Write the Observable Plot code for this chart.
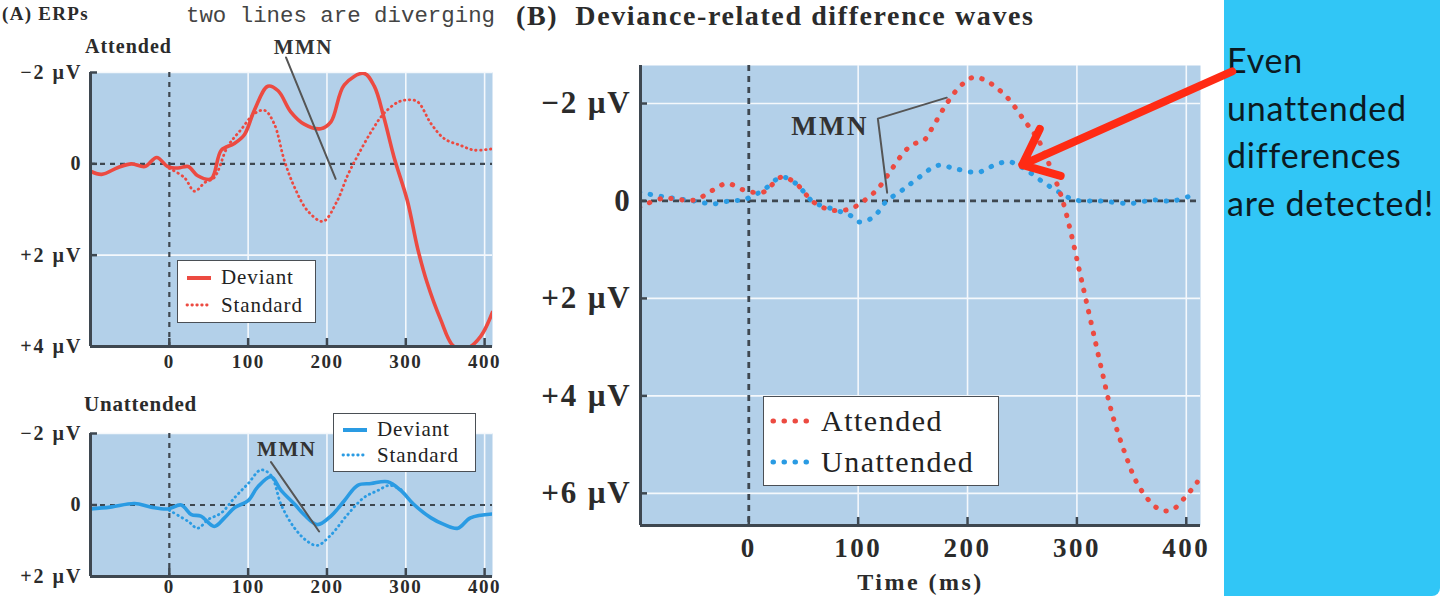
<!DOCTYPE html>
<html>
<head>
<meta charset="utf-8">
<script src="https://cdn.jsdelivr.net/npm/d3@7"></script>
<script src="https://cdn.jsdelivr.net/npm/@observablehq/plot@0.6"></script>
<style>
  html, body { margin: 0; padding: 0; }
  body { width: 1440px; height: 596px; overflow: hidden; background: #fff; position: relative; font-family: "Liberation Serif", serif; }
  .abs { position: absolute; white-space: nowrap; }
  .lbl { font-weight: bold; color: #2b2b2b; }
  .legend { position: absolute; background: #fff; border: 1.5px solid #4a4f55; box-sizing: border-box; color: #222; }
  .legend .row { display: flex; align-items: center; }
  #cyan { position: absolute; left: 1224px; top: 0; width: 216px; height: 596px; background: #31c6f6; border-bottom-right-radius: 8px; }
  #note { position: absolute; left: 1227px; top: 36px; font-family: Lato, "Open Sans", sans-serif; font-size: 34px; line-height: 47.5px; letter-spacing: 0.8px; color: #0c1a22; }
</style>
</head>
<body>
<div id="cyan"></div>
<div id="note">Even<br>unattended<br>differences<br>are detected!</div>

<div class="abs lbl" style="left:2px;top:3px;font-size:19px;letter-spacing:1.3px;">(A)&nbsp;ERPs</div>
<div class="abs" style="left:186px;top:3px;font-family:'Liberation Mono',monospace;font-size:22.4px;color:#444;">two lines are diverging</div>
<div class="abs lbl" style="left:516px;top:0px;font-size:28px;letter-spacing:1.6px;">(B)&nbsp; Deviance-related difference waves</div>
<div class="abs lbl" style="left:85px;top:35px;font-size:20px;letter-spacing:1px;">Attended</div>
<div class="abs lbl" style="left:84px;top:392px;font-size:21px;letter-spacing:0.8px;">Unattended</div>

<div id="pA" class="abs" style="left:0;top:0;"></div>
<div id="pU" class="abs" style="left:0;top:380px;"></div>
<div id="pB" class="abs" style="left:510px;top:30px;"></div>

<script>
// ---------- data (time in ms, amplitude in µV; negative is plotted upward) ----------
const timeTicks = [0, 100, 200, 300, 400];
const ticksAttended = [-2, 0, 2, 4];
const ticksUnattended = [-2, 0, 2];
const ticksDifference = [-2, 0, 2, 4, 6];

const attendedDeviant = [[-100,0.16],[-86,0.23],[-65,0.08],[-48,0.0],[-31,0.06],[-16,-0.14],[-2,0.06],[11,0.09],[24,0.06],[36,0.26],[53,0.33],[66,-0.3],[82,-0.44],[95,-0.63],[108,-1.18],[125,-1.7],[138,-1.6],[154,-1.14],[171,-0.87],[192,-0.77],[205,-0.92],[222,-1.73],[247,-1.98],[260,-1.7],[272,-1.03],[285,-0.15],[302,0.81],[315,1.85],[327,2.6],[344,3.4],[361,4.0],[378,4.04],[395,3.78],[410,3.25]];
const attendedStandard = [[0,0.1],[19,0.3],[32,0.6],[45,0.41],[57,0.3],[74,-0.38],[91,-0.75],[108,-1.1],[121,-1.17],[133,-0.88],[146,-0.07],[159,0.52],[176,1.04],[195,1.26],[213,0.81],[226,0.26],[239,-0.18],[256,-0.7],[272,-1.1],[290,-1.35],[302,-1.4],[315,-1.36],[332,-0.88],[349,-0.55],[370,-0.4],[387,-0.3],[410,-0.33]];

const unattendedDeviant = [[-100,0.11],[-75,0.06],[-44,-0.04],[-23,0.06],[-2,0.11],[15,0.0],[28,0.27],[40,0.31],[57,0.6],[70,0.36],[83,0.07],[100,-0.12],[112,-0.5],[129,-0.79],[142,-0.4],[159,-0.02],[171,0.27],[188,0.55],[205,0.31],[222,-0.12],[239,-0.55],[256,-0.6],[277,-0.65],[294,-0.4],[310,-0.02],[332,0.36],[349,0.55],[366,0.65],[382,0.36],[410,0.25]];
const unattendedStandard = [[0,0.15],[24,0.46],[36,0.65],[49,0.41],[66,0.22],[83,-0.21],[100,-0.6],[116,-0.98],[129,-0.83],[142,0.0],[159,0.65],[176,1.03],[188,1.13],[205,0.84],[226,0.27],[247,-0.21],[264,-0.4],[280,-0.55],[296,-0.4]];

const diffAttended = [[-100,0.13],[-79,-0.05],[-50,-0.02],[-33,-0.22],[-20,-0.36],[-4,-0.22],[13,-0.18],[30,-0.49],[43,-0.36],[59,0.02],[76,0.19],[93,0.16],[105,0.0],[118,-0.25],[130,-0.63],[143,-1.03],[151,-1.17],[160,-1.24],[168,-1.51],[181,-2.0],[194,-2.37],[206,-2.54],[219,-2.44],[236,-2.13],[252,-1.65],[265,-1.24],[278,-0.56],[286,-0.08],[294,0.6],[302,1.4],[308,2.0],[315,2.7],[323,3.5],[332,4.35],[344,5.18],[357,5.87],[374,6.31],[386,6.35],[399,6.08],[410,5.77]];
const diffUnattended = [[-100,-0.18],[-79,-0.09],[-50,0.0],[-33,0.06],[-18,0.0],[-4,-0.03],[13,-0.22],[30,-0.49],[43,-0.36],[59,0.02],[76,0.16],[93,0.3],[101,0.43],[114,0.33],[126,0.0],[139,-0.2],[152,-0.42],[173,-0.73],[189,-0.66],[210,-0.59],[227,-0.76],[239,-0.8],[252,-0.66],[269,-0.39],[286,-0.15],[298,-0.02],[321,0.0],[349,0.05],[370,-0.02],[388,0.0],[410,-0.16]];

// MMN annotation pointers and label anchors (data coordinates)
const mmnPointerAttended = [[148,-2.33],[211,0.33]];
const mmnPointerUnattended = [[129,-1.2],[190,0.74]];
const mmnPointerDifference = [[181,-2.12],[118,-1.69],[126.5,-0.17]];
const mmnLabelAttended = [[170,-2.56]];
const mmnLabelUnattended = [[149,-1.57]];
const mmnLabelDifference = [[110,-1.53]];
const calloutArrow = [{x1: 442, y1: -2.66, x2: 250, y2: -0.74}];

// ---------- styling ----------
const BG = "#b3d0e9", AXIS = "#3e4750", RED = "#ec4a41", BLUE = "#2a9be3", INK = "#2b2b2b";
const fmtUV = d => d === 0 ? "0" : (d < 0 ? "\u2212" : "+") + Math.abs(d) + " \u00b5V";

function panel(cfg) {
  const {width, height, mt, mr, mb, ml, xDomain, yDomain, yTicks, fsX, fsY, xPad, yPad, series, extra = []} = cfg;
  const [x0, x1] = xDomain, [y0, y1] = yDomain;
  const kx = (width - ml - mr) / (x1 - x0), ky = (height - mt - mb) / (y1 - y0);
  const tx = 7 / kx, ty = 8 / ky;
  const svg = Plot.plot({
    width, height, marginTop: mt, marginRight: mr, marginBottom: mb, marginLeft: ml,
    x: {domain: xDomain},
    y: {domain: yDomain, reverse: true},
    style: {fontFamily: "Liberation Serif, serif", fontWeight: "bold", color: INK, background: "transparent", overflow: "visible", letterSpacing: cfg.ls + "px"},
    marks: [
      Plot.frame({fill: BG, stroke: "none"}),
      Plot.ruleX(timeTicks.filter(d => d !== 0), {stroke: "#f4f8fc", strokeWidth: 1.6}),
      Plot.ruleY(yTicks.filter(d => d !== 0), {stroke: "#f4f8fc", strokeWidth: 1.6}),
      Plot.ruleY([0], {stroke: AXIS, strokeWidth: cfg.dashW, strokeDasharray: cfg.dash}),
      Plot.ruleX([0], {stroke: AXIS, strokeWidth: cfg.dashW, strokeDasharray: cfg.dash}),
      ...series,
      Plot.ruleX([x0], {stroke: AXIS, strokeWidth: 3}),
      Plot.ruleY([y1], {stroke: AXIS, strokeWidth: 3}),
      Plot.ruleY(yTicks, {x1: x0, x2: x0 + tx, stroke: AXIS, strokeWidth: 2.5}),
      Plot.ruleX(timeTicks, {y1: y1, y2: y1 - ty, stroke: AXIS, strokeWidth: 2.5}),
      Plot.axisY({ticks: yTicks, tickFormat: fmtUV, tickSize: 0, tickPadding: yPad, label: null, fontSize: fsY, fill: INK}),
      Plot.axisX({ticks: timeTicks, tickFormat: d => String(d), tickSize: 0, tickPadding: xPad, label: null, fontSize: fsX, fill: INK}),
      ...extra
    ]
  });
  if (cfg.lsY != null) svg.querySelectorAll('[aria-label="y-axis tick label"]').forEach(g => g.style.letterSpacing = cfg.lsY + "px");
  return svg;
}

const line = (data, stroke, opts) => Plot.line(data, {x: d => d[0], y: d => d[1], stroke, curve: "catmull-rom", clip: true, strokeLinecap: "round", ...opts});
const pointer = (data) => Plot.line(data, {x: d => d[0], y: d => d[1], stroke: "#555", strokeWidth: 2});
const mmnText = (data, fs, anchor = "middle") => Plot.text(data, {x: d => d[0], y: d => d[1], text: () => "MMN", fontSize: fs, fontWeight: "bold", fill: "#333", textAnchor: anchor});

const DOT_A = "0.5 4.4", DOT_B = "0.5 10.5";

// Panel A – attended
document.getElementById("pA").append(panel({
  width: 500, height: 380, mt: 72, mr: 8, mb: 34, ml: 90,
  xDomain: [-100, 410], yDomain: [-2, 4], yTicks: ticksAttended, fsX: 19, fsY: 20, xPad: 8, yPad: 8, ls: 1.5, lsY: 2,
  dash: "5 5", dashW: 2.2,
  series: [
    line(attendedStandard, RED, {strokeWidth: 2.8, strokeDasharray: DOT_A}),
    line(attendedDeviant, RED, {strokeWidth: 3.6})
  ],
  extra: [pointer(mmnPointerAttended), mmnText(mmnLabelAttended, 21)]
}));

// Panel A – unattended
document.getElementById("pU").append(panel({
  width: 500, height: 216, mt: 53, mr: 8, mb: 20, ml: 90,
  xDomain: [-100, 410], yDomain: [-2, 2], yTicks: ticksUnattended, fsX: 19, fsY: 20, xPad: 3, yPad: 8, ls: 1.5, lsY: 2,
  dash: "5 5", dashW: 2.2,
  series: [
    line(unattendedStandard, BLUE, {strokeWidth: 2.8, strokeDasharray: DOT_A}),
    line(unattendedDeviant, BLUE, {strokeWidth: 3.6})
  ],
  extra: [pointer(mmnPointerUnattended), mmnText(mmnLabelUnattended, 21)]
}));

// Panel B – difference waves
document.getElementById("pB").append(panel({
  width: 730, height: 566, mt: 35, mr: 40, mb: 71, ml: 130,
  xDomain: [-99, 413], yDomain: [-2.78, 6.66], yTicks: ticksDifference, fsX: 27, fsY: 31, xPad: 12, yPad: 9, ls: 2.5, lsY: 1.8,
  dash: "6 5", dashW: 2.8,
  series: [
    line(diffUnattended, BLUE, {strokeWidth: 5, strokeDasharray: DOT_B}),
    line(diffAttended, RED, {strokeWidth: 5, strokeDasharray: DOT_B})
  ],
  extra: [
    pointer(mmnPointerDifference),
    mmnText(mmnLabelDifference, 27, "end"),
    Plot.text(["Time (ms)"], {frameAnchor: "bottom", dy: 64, fontSize: 24, fontWeight: "bold", fill: INK}),
    Plot.arrow(calloutArrow, {x1: "x1", y1: "y1", x2: "x2", y2: "y2", stroke: "#ff2b14", strokeWidth: 8, headLength: 7.5, headAngle: 80, strokeLinecap: "round"})
  ]
}));

// ---------- legends ----------
function legend(left, top, w, h, fs, ls, items, swW) {
  const div = document.createElement("div");
  div.className = "legend";
  Object.assign(div.style, {left: left + "px", top: top + "px", width: w + "px", height: h + "px", fontSize: fs + "px", letterSpacing: ls + "px", padding: "3px 6px", lineHeight: (h - 8) / 2 + "px"});
  for (const it of items) {
    const row = document.createElement("div");
    row.className = "row";
    row.style.height = (h - 8) / 2 + "px";
    row.innerHTML = `<svg width="${swW}" height="10" style="margin-right:7px;flex:none"><line x1="3" x2="${swW - 3}" y1="5" y2="5" stroke="${it.color}" stroke-width="${it.sw}" stroke-linecap="${it.dash ? "round" : "butt"}" ${it.dash ? `stroke-dasharray="${it.dash}"` : ""}/></svg><span>${it.label}</span>`;
    div.append(row);
  }
  document.body.append(div);
}
legend(177, 260, 139, 63, 21, 0.9, [
  {label: "Deviant", color: RED, sw: 4},
  {label: "Standard", color: RED, sw: 2.8, dash: DOT_A}
], 30);
legend(333, 413, 143, 59, 21, 0.9, [
  {label: "Deviant", color: BLUE, sw: 4},
  {label: "Standard", color: BLUE, sw: 2.8, dash: DOT_A}
], 30);
legend(763, 396, 236, 90, 30, 1.5, [
  {label: "Attended", color: RED, sw: 5, dash: DOT_B},
  {label: "Unattended", color: BLUE, sw: 5, dash: DOT_B}
], 44);
</script>
</body>
</html>
